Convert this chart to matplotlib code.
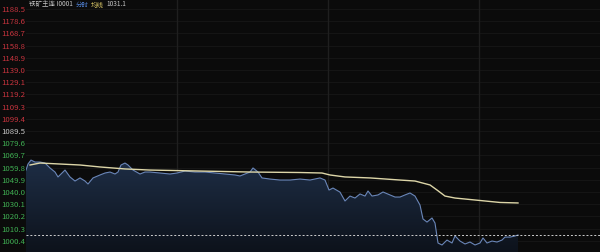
import numpy as np
import matplotlib.pyplot as plt
from matplotlib.colors import LinearSegmentedColormap

plt.rcParams['font.family'] = ['Noto Sans CJK SC', 'DejaVu Sans']

# time slots (tick index from session open) and prices
price_t = [0, 2, 5, 9, 14, 19, 24, 29, 32, 36, 39, 44, 49, 54, 59, 62, 67, 74, 79, 84,
           89, 92, 95, 99, 102, 107, 114, 119, 124, 134, 144, 151, 159, 169, 179, 189,
           199, 209, 214, 219, 224, 227, 232, 236, 244, 254, 264, 274, 284, 294, 299,
           303, 307, 314, 319, 324, 329, 334, 339, 342, 346, 352, 357, 364, 369, 374,
           379, 384, 389, 394, 397, 401, 406, 409, 412, 416, 421, 426, 429, 434, 439,
           444, 449, 454, 457, 461, 466, 471, 476, 479, 484, 489, 492]
price = [1057.8, 1062.7, 1065.9, 1064.3, 1064.3, 1063.5, 1059.5, 1056.2, 1052.2, 1055.4,
         1057.8, 1052.2, 1048.9, 1051.4, 1048.9, 1046.5, 1051.4, 1053.8, 1055.4, 1056.2,
         1054.6, 1056.2, 1061.9, 1063.5, 1061.9, 1057.8, 1054.6, 1056.2, 1056.2, 1055.4,
         1054.6, 1055.4, 1057.0, 1056.2, 1056.2, 1055.4, 1054.6, 1053.8, 1053.0, 1054.6,
         1056.2, 1059.5, 1056.2, 1051.4, 1050.5, 1049.7, 1049.7, 1050.5, 1049.7, 1051.4,
         1049.7, 1041.6, 1043.2, 1039.9, 1032.7, 1036.7, 1035.1, 1038.4, 1036.7, 1040.8,
         1036.7, 1037.6, 1040.0, 1037.6, 1035.9, 1035.9, 1037.6, 1039.2, 1036.7, 1029.4,
         1018.1, 1015.6, 1018.9, 1014.8, 998.6, 997.0, 1001.0, 998.6, 1004.3, 1000.2,
         997.8, 999.4, 997.0, 998.6, 1002.7, 998.6, 1000.2, 999.4, 1001.0, 1003.4,
         1003.4, 1004.3, 1005.1]

avg_t = [4, 14, 34, 54, 74, 99, 124, 174, 224, 274, 296, 304, 319, 344, 374, 389,
         404, 411, 419, 429, 444, 459, 474, 492]
avg = [1061.9, 1063.5, 1062.7, 1061.9, 1060.3, 1058.7, 1057.8, 1057.0, 1056.2, 1055.8,
       1055.4, 1053.8, 1052.2, 1051.4, 1049.7, 1048.9, 1045.7, 1041.6, 1036.7, 1035.1,
       1033.9, 1032.7, 1031.5, 1031.1]

y_ticks = [1188.5, 1178.6, 1168.7, 1158.8, 1148.9, 1139.0, 1129.1, 1119.2, 1109.3,
           1099.4, 1089.5, 1079.6, 1069.7, 1059.8, 1049.9, 1040.0, 1030.1, 1020.2,
           1010.3, 1000.4]
ref_price = 1089.5
last_price = 1005.1
session_breaks = [151, 302, 453]

BG = '#0b0b0b'
fig = plt.figure(figsize=(6, 2.52), dpi=100, facecolor=BG)
ax = fig.add_axes([26 / 600, 0, 574 / 600, 1])
ax.set_facecolor(BG)
ax.set_xlim(0, 574)
ax.set_ylim(991.3, 1195.8)

for v in y_ticks:
    ax.axhline(v, color='#151515', lw=0.8, zorder=0)
for b in session_breaks:
    ax.axvline(b, color='#1f1f1f', lw=1, zorder=0)

# gradient fill under the price line
fill = ax.fill_between(price_t, price, 991.3, color='none', lw=0)
cmap = LinearSegmentedColormap.from_list('f', ['#0d121b', '#1e2e46'])
grad = np.linspace(0, 1, 256).reshape(-1, 1)
img = ax.imshow(grad, cmap=cmap, aspect='auto', origin='lower',
                extent=[0, 574, 991.3, 1066], zorder=1)
img.set_clip_path(fill.get_paths()[0], transform=ax.transData)

ax.plot(price_t, price, color='#6a86b8', lw=0.8, zorder=3)
ax.plot(avg_t, avg, color='#ddd6a8', lw=1.0, zorder=4)
ax.axhline(last_price, color='#cfcfcf', lw=0.7, ls=(0, (2, 2)), zorder=5)

for s in ax.spines.values():
    s.set_visible(False)
ax.set_xticks([])
ax.set_yticks(y_ticks)
ax.set_yticklabels([f'{v:.1f}' for v in y_ticks])
ax.tick_params(axis='y', length=0, pad=17.5, labelsize=5.6)
for lab, v in zip(ax.get_yticklabels(), y_ticks):
    lab.set_ha('left')
    if v > ref_price:
        lab.set_color('#c8343e')
    elif v < ref_price:
        lab.set_color('#3fae52')
    else:
        lab.set_color('#c8c8c8')

# header
fs = 4.7
y_h = 1 - 4.5 / 252
t1 = fig.text(29 / 600, y_h, '铁矿主连 I0001', color='#c4c4c4', fontsize=fs, va='center')
parts = [('分时', '#4f7fd0'), ('均线', '#d8c565'), ('1031.1', '#c4c4c4')]
fig.canvas.draw()
prev = t1
for txt, col in parts:
    bb = prev.get_window_extent()
    x = (bb.x1 + 2.5) / 600
    prev = fig.text(x, y_h, txt, color=col, fontsize=fs, va='center')
    fig.canvas.draw()

fig.savefig('out.png', dpi=100, facecolor=BG)
